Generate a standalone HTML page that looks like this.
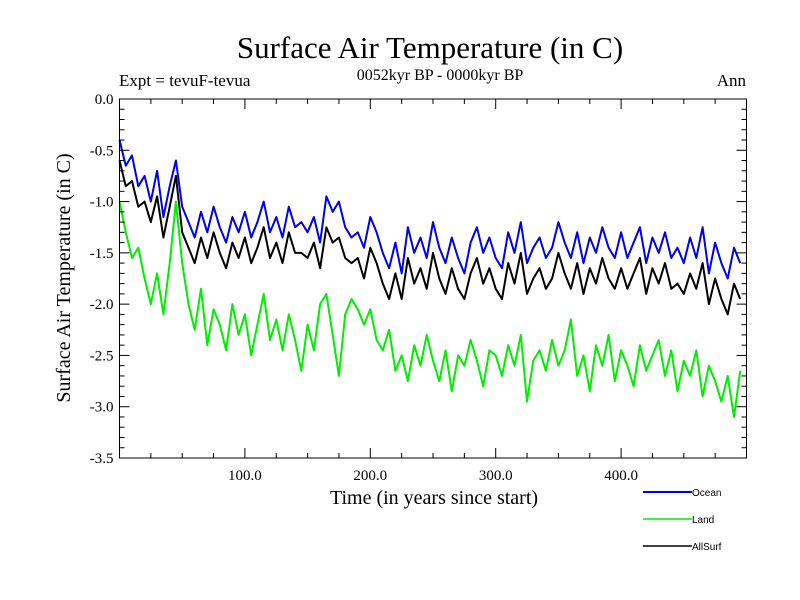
<!DOCTYPE html>
<html><head><meta charset="utf-8">
<style>
html,body{margin:0;padding:0;background:#fff;}
svg{display:block;font-family:"Liberation Serif",serif;}
.leg{font-family:"Liberation Sans",sans-serif;font-size:10px;}
</style></head>
<body>
<svg id="chart" width="800" height="600" viewBox="0 0 800 600">
<rect width="800" height="600" fill="#fff"/>
<text x="430" y="58" font-size="31" text-anchor="middle">Surface Air Temperature (in C)</text>
<text x="119" y="86" font-size="17">Expt = tevuF-tevua</text>
<text x="440" y="80" font-size="16" text-anchor="middle">0052kyr BP - 0000kyr BP</text>
<text x="746" y="86" font-size="17" text-anchor="end">Ann</text>
<text x="434" y="504" font-size="20" text-anchor="middle">Time (in years since start)</text>
<text transform="translate(70,278) rotate(-90)" font-size="20" text-anchor="middle">Surface Air Temperature (in C)</text>
<g id="series"></g>
<g id="axes"></g>
<g id="legend"></g>
</svg>
<script>
const years = [];
for (let i = 0; i < 100; i++) years.push(i * 5);
const ocean = [-0.40,-0.65,-0.55,-0.85,-0.75,-1.00,-0.70,-1.15,-0.85,-0.60,
-1.05,-1.20,-1.35,-1.10,-1.30,-1.05,-1.25,-1.40,-1.15,-1.30,
-1.10,-1.35,-1.20,-1.00,-1.30,-1.15,-1.35,-1.05,-1.25,-1.20,
-1.30,-1.15,-1.40,-0.95,-1.10,-1.00,-1.25,-1.35,-1.30,-1.45,
-1.15,-1.30,-1.50,-1.65,-1.40,-1.70,-1.25,-1.50,-1.35,-1.55,
-1.20,-1.45,-1.60,-1.35,-1.55,-1.70,-1.40,-1.25,-1.50,-1.35,
-1.55,-1.65,-1.30,-1.50,-1.20,-1.60,-1.45,-1.35,-1.55,-1.45,
-1.20,-1.40,-1.55,-1.30,-1.60,-1.35,-1.50,-1.25,-1.45,-1.55,
-1.30,-1.55,-1.40,-1.25,-1.60,-1.35,-1.50,-1.30,-1.55,-1.45,
-1.60,-1.35,-1.55,-1.25,-1.70,-1.40,-1.60,-1.75,-1.45,-1.60];
const land = [-1.00,-1.30,-1.55,-1.45,-1.75,-2.00,-1.70,-2.10,-1.60,-1.00,
-1.60,-2.00,-2.25,-1.85,-2.40,-2.05,-2.20,-2.45,-2.00,-2.30,
-2.10,-2.50,-2.20,-1.90,-2.35,-2.15,-2.45,-2.10,-2.35,-2.65,
-2.20,-2.45,-2.00,-1.90,-2.30,-2.70,-2.10,-1.95,-2.05,-2.20,
-2.05,-2.35,-2.45,-2.25,-2.65,-2.50,-2.75,-2.40,-2.60,-2.30,
-2.55,-2.75,-2.45,-2.85,-2.50,-2.60,-2.35,-2.55,-2.80,-2.45,
-2.50,-2.70,-2.40,-2.60,-2.30,-2.95,-2.55,-2.45,-2.65,-2.35,
-2.60,-2.45,-2.15,-2.70,-2.50,-2.85,-2.40,-2.60,-2.30,-2.75,
-2.45,-2.60,-2.80,-2.40,-2.65,-2.50,-2.35,-2.70,-2.45,-2.85,
-2.55,-2.70,-2.45,-2.90,-2.60,-2.75,-2.95,-2.70,-3.10,-2.65];
const allSurf = [-0.60,-0.85,-0.80,-1.05,-1.00,-1.20,-0.95,-1.35,-1.05,-0.75,
-1.30,-1.45,-1.60,-1.35,-1.55,-1.30,-1.50,-1.65,-1.40,-1.55,
-1.35,-1.60,-1.45,-1.25,-1.55,-1.40,-1.60,-1.30,-1.50,-1.50,
-1.55,-1.40,-1.65,-1.25,-1.40,-1.35,-1.55,-1.60,-1.55,-1.75,
-1.45,-1.60,-1.80,-1.95,-1.70,-1.95,-1.55,-1.80,-1.65,-1.85,
-1.50,-1.75,-1.90,-1.65,-1.85,-1.95,-1.70,-1.55,-1.80,-1.65,
-1.85,-1.95,-1.60,-1.80,-1.50,-1.90,-1.75,-1.65,-1.85,-1.75,
-1.50,-1.70,-1.85,-1.60,-1.90,-1.65,-1.80,-1.55,-1.75,-1.85,
-1.65,-1.85,-1.70,-1.55,-1.90,-1.65,-1.80,-1.60,-1.85,-1.80,
-1.90,-1.70,-1.85,-1.60,-2.00,-1.75,-1.95,-2.10,-1.80,-1.95];
const yTickVals = [0.0,-0.5,-1.0,-1.5,-2.0,-2.5,-3.0,-3.5];
const yTickLabels = ["0.0","-0.5","-1.0","-1.5","-2.0","-2.5","-3.0","-3.5"];
const xTickVals = [100,200,300,400];
const xTickLabels = ["100.0","200.0","300.0","400.0"];
const legendNames = ["Ocean","Land","AllSurf"];

const L=119.5,R=746.5,T=99,B=458, X0=0,X1=500, Y0=0,Y1=-3.5;
const sx=v=>L+(v-X0)/(X1-X0)*(R-L);
const sy=v=>T+(v-Y0)/(Y1-Y0)*(B-T);
const NS="http://www.w3.org/2000/svg";
function mk(tag,attrs,parent){const e=document.createElementNS(NS,tag);for(const k in attrs)e.setAttribute(k,attrs[k]);parent.appendChild(e);return e;}

const sg=document.getElementById('series');
const seriesList=[[land,'#00ee00','land-line'],[ocean,'#0000ee','ocean-line'],[allSurf,'#000000','allsurf-line']];
seriesList.forEach(s=>{
  const d=s[0].map((v,i)=>(i?'L':'M')+sx(years[i]).toFixed(1)+','+sy(v).toFixed(1)).join('');
  const p=mk('path',{d:d,fill:'none',stroke:s[1],'stroke-width':2,'stroke-linejoin':'round'},sg);
  
  
});

const ag=document.getElementById('axes');
const frame=mk('rect',{x:L,y:T,width:R-L,height:B-T,fill:'none',stroke:'#000','stroke-width':1},ag);


for(let k=0;k<=35;k++){
  const v=-k/10, y=sy(v), len=(k%5===0)?10:5;
  mk('line',{x1:L,x2:L+len,y1:y,y2:y,stroke:'#000'},ag);
  mk('line',{x1:R,x2:R-len,y1:y,y2:y,stroke:'#000'},ag);
}
yTickVals.forEach((v,i)=>{
  const t=mk('text',{x:L-6,y:sy(v)+5,'font-size':15,'text-anchor':'end'},ag);
  t.textContent=yTickLabels[i];
  
  
});
for(let yv=25;yv<500;yv+=25){
  const x=sx(yv), len=(yv%100===0)?10:5;
  mk('line',{x1:x,x2:x,y1:B,y2:B-len,stroke:'#000'},ag);
  mk('line',{x1:x,x2:x,y1:T,y2:T+len,stroke:'#000'},ag);
}
xTickVals.forEach((v,i)=>{
  const t=mk('text',{x:sx(v),y:B+22,'font-size':15,'text-anchor':'middle'},ag);
  t.textContent=xTickLabels[i];
  
  
});

const lg=document.getElementById('legend');
const legendColors=['#0000ee','#00ee00','#000000'];
legendNames.forEach((n,i)=>{
  const y=492+i*27;
  const ln=mk('line',{x1:643,x2:692,y1:y,y2:y,stroke:legendColors[i],'stroke-width':i===0?2:1.5},lg);
  
  
  const t=mk('text',{x:692,y:y+4,'class':'leg'},lg);
  t.textContent=n;
  
  
});
</script>
</body></html>
